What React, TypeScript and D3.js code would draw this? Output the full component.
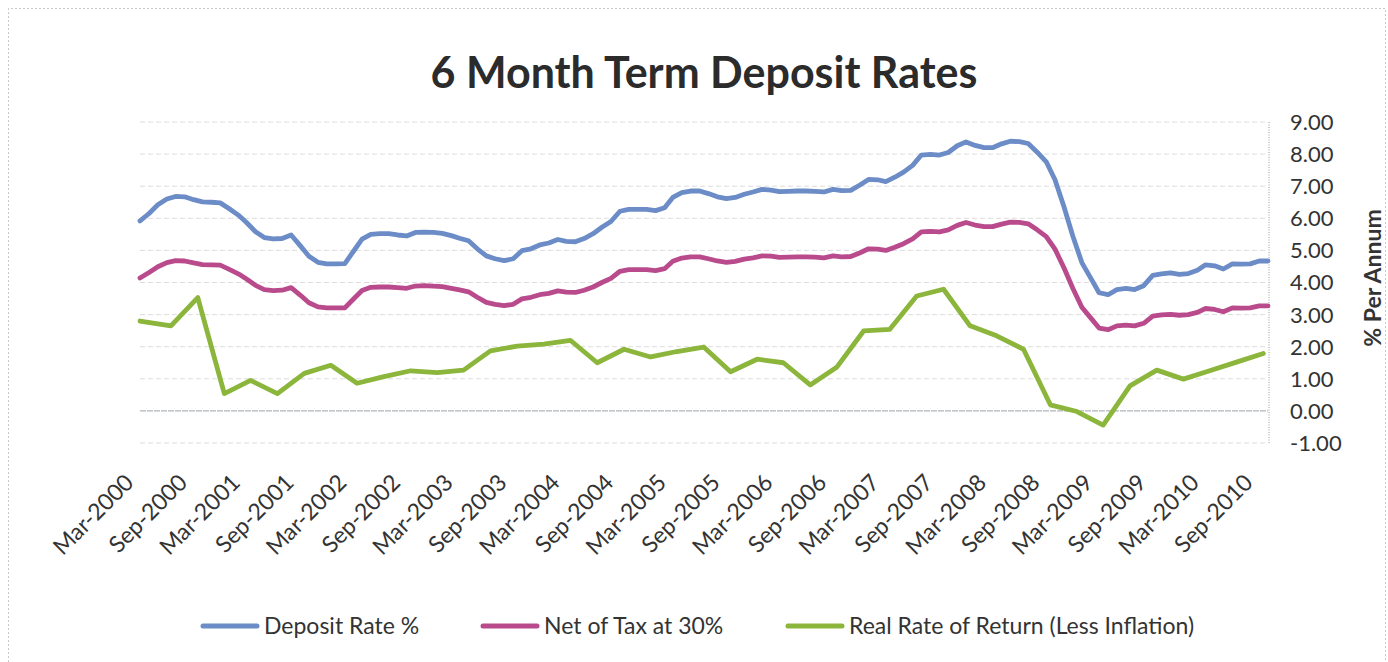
import React from "react";
import * as d3 from "d3";

const title = "6 Month Term Deposit Rates";
const yAxisTitle = "% Per Annum";
const seriesNames = ["Deposit Rate %", "Net of Tax at 30%", "Real Rate of Return (Less Inflation)"];
const seriesColors = ["#6b8cc6", "#b94a8c", "#8bb53b"];

// monthly categories: Mar-2000 .. Oct-2010
const months = d3.timeMonth.range(new Date(2000, 2, 1), new Date(2010, 10, 1));

const depositRate = [
  5.92, 6.15, 6.42, 6.60, 6.68, 6.67, 6.58, 6.51, 6.50, 6.48,
  6.30, 6.10, 5.87, 5.58, 5.40, 5.36, 5.37, 5.48, 5.15, 4.82,
  4.63, 4.58, 4.58, 4.59, 4.95, 5.35, 5.50, 5.52, 5.52, 5.48,
  5.45, 5.56, 5.57, 5.56, 5.53, 5.46, 5.38, 5.30, 5.05, 4.83,
  4.74, 4.68, 4.74, 4.99, 5.05, 5.17, 5.23, 5.34, 5.28, 5.27,
  5.37, 5.52, 5.72, 5.90, 6.22, 6.28, 6.28, 6.28, 6.24, 6.33,
  6.65, 6.80, 6.85, 6.85, 6.77, 6.67, 6.61, 6.65, 6.75, 6.82,
  6.90, 6.88, 6.83, 6.84, 6.85, 6.85, 6.84, 6.82, 6.90, 6.86,
  6.87, 7.03, 7.21, 7.20, 7.14, 7.28, 7.44, 7.65, 7.97, 7.99,
  7.97, 8.05, 8.26, 8.38, 8.27, 8.20, 8.20, 8.32, 8.40, 8.39,
  8.33, 8.06, 7.76, 7.20, 6.35, 5.45, 4.62, 4.13, 3.68, 3.62,
  3.78, 3.82, 3.78, 3.90, 4.22, 4.27, 4.30, 4.25, 4.28, 4.38,
  4.55, 4.52, 4.42, 4.58, 4.57, 4.58, 4.67, 4.67,
];

const netOfTax = [
  4.14, 4.31, 4.49, 4.62, 4.68, 4.67, 4.61, 4.56, 4.55, 4.54,
  4.41, 4.27, 4.11, 3.91, 3.78, 3.75, 3.76, 3.84, 3.61, 3.37,
  3.24, 3.21, 3.21, 3.21, 3.47, 3.75, 3.85, 3.86, 3.86, 3.84,
  3.82, 3.89, 3.90, 3.89, 3.87, 3.82, 3.77, 3.71, 3.54, 3.38,
  3.32, 3.28, 3.32, 3.49, 3.54, 3.62, 3.66, 3.74, 3.70, 3.69,
  3.76, 3.86, 4.00, 4.13, 4.35, 4.40, 4.40, 4.40, 4.37, 4.43,
  4.66, 4.76, 4.80, 4.80, 4.74, 4.67, 4.63, 4.66, 4.73, 4.77,
  4.83, 4.82, 4.78, 4.79, 4.80, 4.80, 4.79, 4.77, 4.83, 4.80,
  4.81, 4.92, 5.05, 5.04, 5.00, 5.10, 5.21, 5.36, 5.58, 5.59,
  5.58, 5.64, 5.78, 5.87, 5.79, 5.74, 5.74, 5.82, 5.88, 5.87,
  5.83, 5.64, 5.43, 5.04, 4.45, 3.82, 3.23, 2.89, 2.58, 2.53,
  2.65, 2.67, 2.65, 2.73, 2.95, 2.99, 3.01, 2.98, 3.00, 3.07,
  3.19, 3.16, 3.09, 3.21, 3.20, 3.21, 3.27, 3.27,
];

// quarterly real rate points: Mar-2000, then mid-month Jun-2000 .. Sep-2010
const realDates = [new Date(2000, 2, 1)].concat(
  d3.timeMonth.range(new Date(2000, 5, 1), new Date(2010, 9, 1), 3).map((d) => d3.timeDay.offset(d, 14))
);
const realRate = [
  2.80, 2.65, 3.53, 0.54, 0.95, 0.54, 1.17, 1.42, 0.86, 1.07,
  1.25, 1.19, 1.27, 1.87, 2.02, 2.08, 2.20, 1.50, 1.92, 1.68,
  1.85, 1.99, 1.22, 1.61, 1.50, 0.81, 1.37, 2.49, 2.54, 3.58,
  3.79, 2.65, 2.34, 1.92, 0.19, -0.02, -0.44, 0.78, 1.27, 0.99,
  1.25, 1.52, 1.79,
];

const yTicks = [-1, 0, 1, 2, 3, 4, 5, 6, 7, 8, 9];
const xTickDates = d3.timeMonth.range(new Date(2000, 2, 1), new Date(2010, 9, 2), 6);

const W = 1388;
const H = 662;
const FONT = "Lato, 'Open Sans', sans-serif";

export default function App() {
  const x = d3.scaleTime().domain([months[0], months[months.length - 1]]).range([140, 1268]);
  const y = d3.scaleLinear().domain([-1, 9]).range([443, 122]);
  const fmt = d3.timeFormat("%b-%Y");

  const line = d3
    .line<[Date, number]>()
    .x((d) => x(d[0]))
    .y((d) => y(d[1]))
    .curve(d3.curveLinear);

  const series: [Date, number][][] = [
    months.map((m, i) => [m, depositRate[i]] as [Date, number]),
    months.map((m, i) => [m, netOfTax[i]] as [Date, number]),
    realDates.map((m, i) => [m, realRate[i]] as [Date, number]),
  ];

  const legendX = [203, 483, 788];

  return (
    <svg
      width={W}
      height={H}
      style={{ position: "absolute", left: 0, top: 0, background: "#fff" }}
      fontFamily={FONT}
    >
      <rect x={0} y={0} width={W} height={H} fill="#fff" />
      {/* outer chart border (faint, dotted) */}
      <path d={`M8.5,${H} V8.5 H1385.5 V${H}`} fill="none" stroke="#c8c8c8" strokeDasharray="2,2" />

      <text x={704} y={88} textAnchor="middle" fontSize={43} fontWeight="bold" fill="#2b2b2b">
        {title}
      </text>

      {/* gridlines */}
      {yTicks.map((t) => (
        <line
          key={"g" + t}
          x1={140}
          x2={1268}
          y1={y(t)}
          y2={y(t)}
          stroke={t === 0 ? "#9aa3a8" : "#dcdcdc"}
          strokeWidth={1}
          strokeDasharray={t === 0 ? "6,1" : "5,3"}
        />
      ))}
      {/* right value axis line */}
      <line x1={1269} x2={1269} y1={y(9)} y2={y(-1)} stroke="#9a9a9a" strokeDasharray="1,1.5" />

      {/* y tick labels */}
      {yTicks.map((t) => (
        <text key={"yl" + t} x={1290} y={y(t)} dy="0.36em" fontSize={22} fill="#333">
          {t.toFixed(2)}
        </text>
      ))}
      <text
        transform={`translate(1381,278) rotate(-90)`}
        textAnchor="middle"
        fontSize={23}
        fontWeight="bold"
        fill="#333"
      >
        {yAxisTitle}
      </text>

      {/* x tick labels */}
      {xTickDates.map((d) => (
        <text
          key={"xl" + d.getTime()}
          transform={`translate(${x(d) - 5},${484}) rotate(-45)`}
          textAnchor="end"
          fontSize={23}
          fill="#333"
        >
          {fmt(d)}
        </text>
      ))}

      {/* series lines */}
      {series.map((s, i) => (
        <path
          key={"s" + i}
          d={line(s) || ""}
          fill="none"
          stroke={seriesColors[i]}
          strokeWidth={4.8}
          strokeLinejoin="round"
          strokeLinecap="round"
        />
      ))}

      {/* legend */}
      {seriesNames.map((n, i) => (
        <g key={"lg" + i}>
          <line
            x1={legendX[i]}
            x2={legendX[i] + 54}
            y1={626}
            y2={626}
            stroke={seriesColors[i]}
            strokeWidth={5}
            strokeLinecap="round"
          />
          <text x={legendX[i] + 61} y={626} dy="0.36em" fontSize={23} fill="#333">
            {n}
          </text>
        </g>
      ))}
    </svg>
  );
}
